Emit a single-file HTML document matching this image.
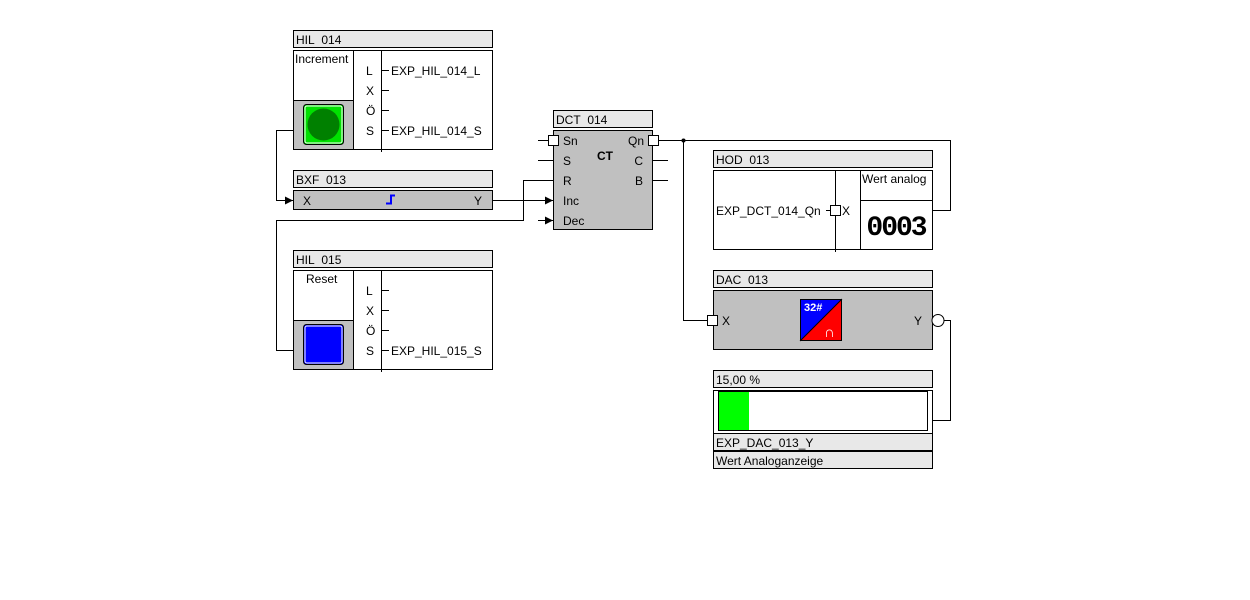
<!DOCTYPE html><html><head><meta charset="utf-8"><style>body{margin:0;background:#fff}svg{display:block}text{font-family:"Liberation Sans",sans-serif;font-size:12px;fill:#000}</style></head><body>
<svg width="1250" height="600" xmlns="http://www.w3.org/2000/svg">
<defs><marker id="a" markerWidth="8" markerHeight="8" refX="8" refY="4" orient="auto" markerUnits="userSpaceOnUse"><path d="M0,0L8,4L0,8z" fill="#000"/></marker></defs>
<g fill="none" stroke="#000" stroke-width="1">
<path d="M293.5,130.5H276.5V200.5H293" marker-end="url(#a)"/>
<path d="M493,200.5H553" marker-end="url(#a)"/>
<path d="M293,350.5H276.5V220.5H523.5V180.5H553"/>
<path d="M538,220.5H553" marker-end="url(#a)"/>
<path d="M538,140.5H548M538,160.5H553M653,160.5H668M653,180.5H668"/>
<path d="M658,140.5H950.5V210.5H933"/>
<path d="M683.5,140.5V320.5H707"/>
<path d="M944,320.5H950.5V420.5H933"/>
</g>
<circle cx="683.5" cy="140.5" r="2" fill="#000"/>
<g stroke="#000" fill="#e8e8e8">
<rect x="293.5" y="30.5" width="199" height="17"/>
<rect x="293.5" y="170.5" width="199" height="17"/>
<rect x="293.5" y="250.5" width="199" height="17"/>
<rect x="553.5" y="110.5" width="99" height="17"/>
<rect x="713.5" y="150.5" width="219" height="17"/>
<rect x="713.5" y="270.5" width="219" height="17"/>
<rect x="713.5" y="370.5" width="219" height="17"/>
<rect x="713.5" y="433.5" width="219" height="17"/>
<rect x="713.5" y="451.5" width="219" height="17"/>
</g>
<g stroke="#000">
<rect x="293.5" y="50.5" width="199" height="99" fill="#fff"/>
<rect x="293.5" y="100.5" width="60" height="49" fill="#c0c0c0"/>
<rect x="293.5" y="270.5" width="199" height="99" fill="#fff"/>
<rect x="293.5" y="320.5" width="60" height="49" fill="#c0c0c0"/>
<rect x="293.5" y="190.5" width="199" height="19" fill="#c0c0c0"/>
<rect x="553.5" y="130.5" width="99" height="99" fill="#c0c0c0"/>
<rect x="713.5" y="170.5" width="219" height="79" fill="#fff"/>
<rect x="713.5" y="290.5" width="219" height="59" fill="#c0c0c0"/>
<rect x="713.5" y="390.5" width="219" height="43" fill="#fff"/>
<rect x="718.5" y="391.5" width="209" height="39" fill="#fff"/>
<path d="M353.5,50V150M381.5,50V152M353.5,270V370M381.5,270V372M835.5,170V252M860.5,170V250M860,200.5H933" fill="none"/>
<path d="M381,70.5H389M381,90.5H389M381,110.5H389M381,130.5H389M381,290.5H389M381,310.5H389M381,330.5H389M381,350.5H389M826,210.5H830" fill="none"/>
<rect x="548.5" y="135.5" width="10" height="10" fill="#fff"/>
<rect x="648.5" y="135.5" width="10" height="10" fill="#fff"/>
<rect x="830.5" y="205.5" width="10" height="10" fill="#fff"/>
<rect x="707.5" y="315.5" width="10" height="10" fill="#fff"/>
<circle cx="938" cy="320.5" r="6" fill="#fff"/>
</g>
<rect x="719" y="392" width="30" height="38" fill="#00ff00"/>
<rect x="303.5" y="104.5" width="40" height="40" rx="3" fill="#00e000" stroke="#000"/>
<rect x="305" y="106" width="37" height="37" rx="2" fill="none" stroke="#fff"/>
<circle cx="323.5" cy="124.5" r="16" fill="#008000"/>
<rect x="303.5" y="324.5" width="40" height="40" rx="3" fill="#0000ff" stroke="#000"/>
<rect x="305" y="326" width="37" height="37" rx="2" fill="none" stroke="#fff"/>
<path d="M386,203.5H391V195.5H395" fill="none" stroke="#0000ff" stroke-width="2"/>
<polygon points="800,299 842,299 800,341" fill="#0000ff"/>
<polygon points="842,299 842,341 800,341" fill="#ff0000"/>
<rect x="800.5" y="299.5" width="41" height="41" fill="none" stroke="#000"/>
<line x1="800" y1="341" x2="842" y2="299" stroke="#000"/>
<text x="804" y="311" style="fill:#fff;font-weight:bold;font-size:11px">32#</text>
<text x="824" y="337" style="fill:#fff;font-weight:bold;font-size:15px">∩</text>
<text x="296" y="44">HIL&#160;&#160;014</text>
<text x="295" y="63">Increment</text>
<text x="366" y="75">L</text><text x="366" y="95">X</text><text x="366" y="115">Ö</text><text x="366" y="135">S</text>
<text x="391" y="75">EXP_HIL_014_L</text><text x="391" y="135">EXP_HIL_014_S</text>
<text x="296" y="184">BXF&#160;&#160;013</text>
<text x="303" y="205">X</text><text x="474" y="205">Y</text>
<text x="296" y="264">HIL&#160;&#160;015</text>
<text x="306" y="283">Reset</text>
<text x="366" y="295">L</text><text x="366" y="315">X</text><text x="366" y="335">Ö</text><text x="366" y="355">S</text>
<text x="391" y="355">EXP_HIL_015_S</text>
<text x="556" y="124">DCT&#160;&#160;014</text>
<text x="563" y="145">Sn</text><text x="563" y="165">S</text><text x="563" y="185">R</text><text x="563" y="205">Inc</text><text x="563" y="225">Dec</text>
<text x="597" y="160" style="font-weight:bold">CT</text>
<text x="644" y="145" text-anchor="end">Qn</text><text x="643" y="165" text-anchor="end">C</text><text x="643" y="185" text-anchor="end">B</text>
<text x="716" y="164">HOD&#160;&#160;013</text>
<text x="716" y="215">EXP_DCT_014_Qn</text><text x="842" y="215">X</text>
<text x="862" y="183">Wert analog</text>
<text x="896" y="235" text-anchor="middle" style="font-family:'Liberation Mono',monospace;font-size:28px;font-weight:bold;letter-spacing:-2px">0003</text>
<text x="716" y="284">DAC&#160;&#160;013</text>
<text x="722" y="325">X</text><text x="914" y="325">Y</text>
<text x="716" y="384">15,00 %</text>
<text x="716" y="447">EXP_DAC_013_Y</text>
<text x="716" y="465">Wert Analoganzeige</text>
</svg></body></html>
